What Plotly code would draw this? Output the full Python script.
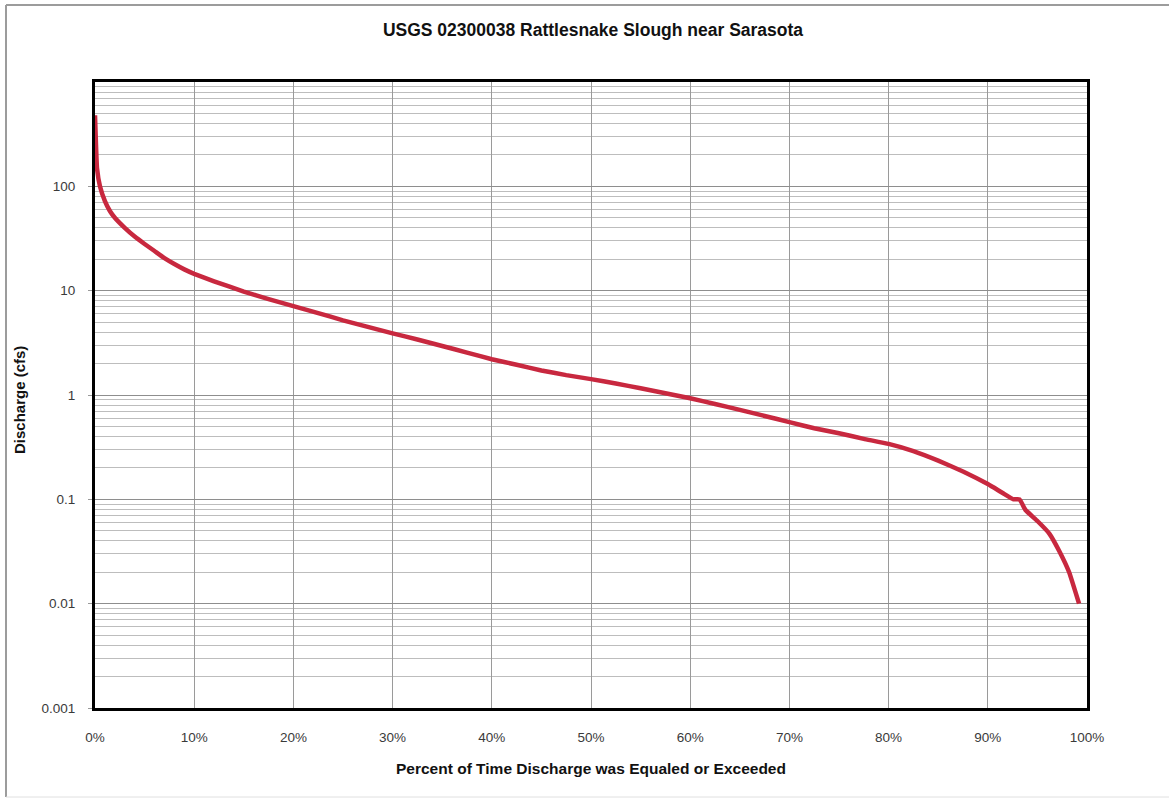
import plotly.graph_objects as go

# Flow-duration curve: percent of time exceeded vs. discharge (cfs)
exceed_pct = [0, 0.1, 0.2, 0.5, 1, 1.5, 2, 3, 4, 5, 6, 7, 8, 9, 10, 12, 15, 17.5,
              20, 22.5, 25, 27.5, 30, 32.5, 35, 37.5, 40, 42.5, 45, 47.5, 50,
              52.5, 55, 57.5, 60, 62.5, 65, 67.5, 70, 72.5, 75, 77.5, 80, 82.5,
              85, 87.5, 90, 91.5, 92.6, 93.2, 93.8, 95, 96.2, 97.2, 98.2, 99.2]
discharge_cfs = [480, 250, 150, 100, 72, 58, 50, 40, 33, 28, 24, 20.5, 18, 16,
                 14.5, 12.3, 9.8, 8.3, 7.1, 6.1, 5.2, 4.5, 3.9, 3.4, 2.95, 2.55,
                 2.2, 1.95, 1.72, 1.55, 1.42, 1.29, 1.16, 1.04, 0.93, 0.82, 0.72,
                 0.63, 0.55, 0.48, 0.43, 0.38, 0.34, 0.29, 0.235, 0.185, 0.14,
                 0.115, 0.1, 0.1, 0.079, 0.062, 0.047, 0.032, 0.02, 0.01]

x_ticks = [0, 10, 20, 30, 40, 50, 60, 70, 80, 90, 100]
x_tick_labels = ["0%", "10%", "20%", "30%", "40%", "50%", "60%", "70%",
                 "80%", "90%", "100%"]
y_ticks = [0.001, 0.01, 0.1, 1, 10, 100]
y_tick_labels = ["0.001", "0.01", "0.1", "1", "10", "100"]
y_minor = [m * 10 ** e for e in range(-3, 3) for m in range(2, 10)]

FONT = "Liberation Sans, Arial, sans-serif"

fig = go.Figure()
fig.add_trace(go.Scatter(
    x=exceed_pct, y=discharge_cfs, mode="lines",
    line=dict(color="#C8283F", width=4.5, shape="spline", smoothing=0.3),
    showlegend=False, hoverinfo="x+y",
))

fig.update_layout(
    width=1170, height=801,
    margin=dict(l=95, r=83, t=82, b=93),
    paper_bgcolor="white", plot_bgcolor="white",
    font=dict(family=FONT, size=13, color="#3A3A3A"),
    title=dict(
        text="<b>USGS 02300038 Rattlesnake Slough near Sarasota</b>",
        x=593 / 1170, xanchor="center", y=1 - 30 / 801, yanchor="middle",
        font=dict(family=FONT, size=17.5, color="#111111"),
    ),
    xaxis=dict(
        range=[0, 100], tickvals=x_ticks, ticktext=x_tick_labels,
        showgrid=True, gridcolor="#9A9A9A", gridwidth=1,
        showline=True, linecolor="black", linewidth=3, mirror=True,
        ticks="", zeroline=False, ticklabelstandoff=15,
        tickfont=dict(size=13.5, color="#3A3A3A"),
    ),
    yaxis=dict(
        type="log", range=[-3, 3],
        tickvals=y_ticks, ticktext=y_tick_labels,
        showgrid=True, gridcolor="#8E8E8E", gridwidth=1,
        minor=dict(tickvals=y_minor, showgrid=True, gridcolor="#BDBDBD",
                   gridwidth=1, ticks=""),
        showline=True, linecolor="black", linewidth=3, mirror=True,
        ticks="outside", ticklen=4, tickcolor="#999999",
        ticklabelstandoff=10,
        tickfont=dict(size=13.5, color="#3A3A3A"),
    ),
)

# Axis titles
fig.add_annotation(
    text="<b>Percent of Time Discharge was Equaled or Exceeded</b>",
    xref="paper", yref="paper", x=(591 - 95) / 992, y=(708 - 768) / 626,
    xanchor="center", yanchor="middle", showarrow=False,
    font=dict(family=FONT, size=15.5, color="#111111"),
)
fig.add_annotation(
    text="<b>Discharge (cfs)</b>", textangle=-90,
    xref="paper", yref="paper", x=(19 - 95) / 992, y=(708 - 400) / 626,
    xanchor="center", yanchor="middle", showarrow=False,
    font=dict(family=FONT, size=15, color="#111111"),
)

# Outer chart frame
frame = dict(type="line", xref="paper", yref="paper", layer="above",
             line=dict(color="#9C9C9C", width=2))
x_left, x_right = (6 - 95) / 992, (1169 - 95) / 992
y_top, y_bot = (708 - 5) / 626, (708 - 797) / 626
fig.add_shape(x0=x_left, x1=x_left, y0=y_bot, y1=y_top, **frame)
fig.add_shape(x0=x_left, x1=x_right, y0=y_top, y1=y_top, **frame)
fig.add_shape(x0=x_left, x1=x_right, y0=y_bot, y1=y_bot,
              type="line", xref="paper", yref="paper",
              line=dict(color="#E0E0E0", width=1))

fig.write_html("out.html")
